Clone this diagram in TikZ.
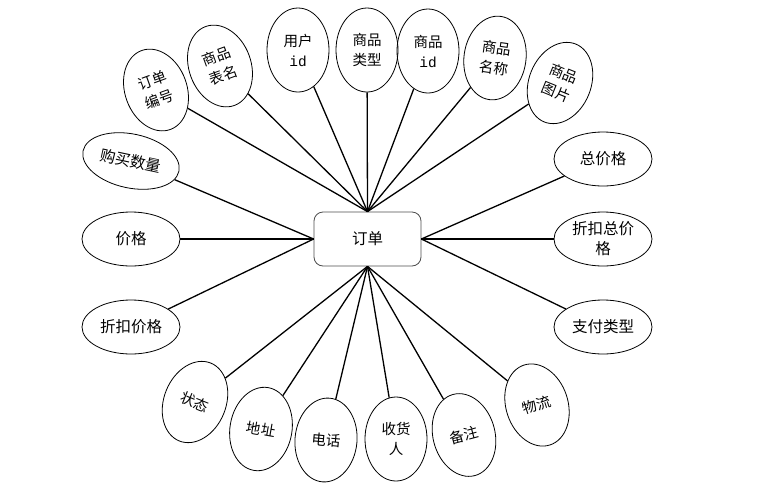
\documentclass[tikz,border=0pt]{standalone}
\usepackage{fontspec}
\usetikzlibrary{shapes.geometric}
\newfontfamily\cjk{Noto Sans CJK SC}
\newfontfamily\monoid{Liberation Mono}
\begin{document}
\begin{tikzpicture}[x=1pt,y=-1pt,
  attr/.style={ellipse,draw,line width=0.8pt,inner sep=0pt,align=center,
    font=\cjk\fontsize{14.5}{20}\selectfont},
  vattr/.style={attr,minimum width=62,minimum height=84},
  hattr/.style={attr,minimum width=98,minimum height=54,font=\cjk\fontsize{15.5}{20}\selectfont},
  entity/.style={draw=black!70,line width=0.8pt,rounded corners=9pt,minimum width=107,
    minimum height=54,inner sep=0pt,font=\cjk\fontsize{15.5}{18}\selectfont},
  link/.style={line width=1.3pt}]
\useasboundingbox (0,0) rectangle (780,491);
\node[entity] (o) at (367.5,239) {订单};
% top
\node[vattr,rotate=20] (a1) at (156,90) {订单\\编号};
\node[vattr,rotate=20] (a2) at (220,66) {商品\\表名};
\node[vattr] (a3) at (298,50) {用户\\{\monoid id}};
\node[vattr] (a4) at (367,50) {商品\\类型};
\node[vattr] (a5) at (428,51) {商品\\{\monoid id}};
\node[vattr,rotate=-8] (a6) at (495,58) {商品\\名称};
\node[vattr,rotate=-22] (a7) at (560,83) {商品\\图片};
% left
\node[hattr,rotate=-12] (l1) at (131,161) {购买数量};
\node[hattr] (l2) at (131,239) {价格};
\node[hattr] (l3) at (131,327) {折扣价格};
% right
\node[hattr] (r1) at (603,159) {总价格};
\node[hattr] (r2) at (603,239) {折扣总价\\格};
\node[hattr] (r3) at (603,327) {支付类型};
% bottom
\node[vattr,rotate=-22] (b1) at (195,402) {状态};
\node[vattr,rotate=-10] (b2) at (261,429) {地址};
\node[vattr,rotate=-5] (b3) at (326,440) {电话};
\node[vattr] (b4) at (396,439) {收货\\人};
\node[vattr,rotate=15] (b5) at (464,435) {备注};
\node[vattr,rotate=18] (b6) at (537,405) {物流};
% links
\foreach \n in {a1,a2,a3,a4,a5,a6,a7} \draw[link] (\n) -- (o.north);
\foreach \n in {l1,l2,l3} \draw[link] (\n) -- (o.west);
\foreach \n in {r1,r2,r3} \draw[link] (\n) -- (o.east);
\foreach \n in {b1,b2,b3,b4,b5,b6} \draw[link] (\n) -- (o.south);
\end{tikzpicture}
\end{document}
